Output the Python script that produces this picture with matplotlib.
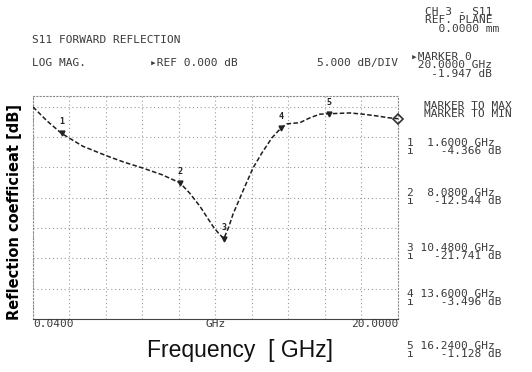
#Network analyzer S11 trace: reflection coefficient vs frequency

import matplotlib.pyplot as plt
import numpy as np

# trace (GHz, dB)
freq = [0.04, 0.8, 1.6, 2.77, 4.09, 5.0, 6.05, 7.1, 8.08, 8.6, 9.17, 9.88, 10.2, 10.48,
        10.75, 10.98, 11.52, 12.07, 12.56, 13.11, 13.6, 13.93, 14.64, 15.19, 15.73,
        16.24, 17.37, 18.08, 18.85, 19.5, 20.0]
s11_db = [0.0, -2.3, -4.37, -6.5, -8.1, -9.1, -10.1, -11.2, -12.54, -14.2, -16.4, -19.7,
          -20.9, -21.74, -19.8, -17.7, -13.9, -10.1, -7.6, -5.1, -3.5, -2.8, -2.6,
          -1.8, -1.2, -1.13, -1.0, -1.2, -1.5, -1.8, -1.95]

marker_ids = ['1', '2', '3', '4', '5']
marker_freq = [1.6, 8.08, 10.48, 13.6, 16.24]
marker_db = [-4.366, -12.544, -21.741, -3.496, -1.128]
active_freq = 20.0
active_db = -1.947

f_start = 0.04
f_stop = 20.0
ref_db = 0.0
db_per_div = 5.0

fig = plt.figure(figsize=(5.32, 3.72), dpi=100)
ax = fig.add_axes([0.062, 0.1425, 0.686, 0.5995])

mono = 'DejaVu Sans Mono'
tc = '#3a3a3a'

# graticule
for xv in np.linspace(f_start, f_stop, 11):
    ax.axvline(xv, color='#9a9a9a', lw=0.8, ls=(0, (1, 2.5)), zorder=1)
for yv in np.arange(-35, 1, db_per_div):
    ax.axhline(yv, color='#9a9a9a', lw=0.8, ls=(0, (1, 2.5)), zorder=1)

ax.plot(freq, s11_db, color='#1e1e1e', lw=1.1, ls=(0, (3, 1.5)), zorder=3)

# markers on the trace
for m, fx, dy in zip(marker_ids, marker_freq, marker_db):
    ax.plot(fx, dy, marker='v', ms=3.5, color='#222222', zorder=4)
    ax.annotate(m, (fx, dy), xytext=(0, 5), textcoords='offset points',
                ha='center', va='bottom', fontsize=6, family=mono,
                fontweight='bold', color='#222222')
ax.plot(active_freq, active_db, marker='D', ms=5, mfc='none', mec='#333333',
        mew=1.2, ls='none', zorder=4, clip_on=False)

ax.set_xlim(f_start, f_stop)
ax.set_ylim(-35, 1.8)
ax.set_xticks([])
ax.set_yticks([])
for s in ax.spines.values():
    s.set_linestyle((0, (1, 2)))
    s.set_color('#8a8a8a')
    s.set_linewidth(0.8)
ax.spines['bottom'].set_color('#444444')
ax.spines['bottom'].set_linestyle((0, (1, 1)))

ax.set_ylabel('Reflection coefficieat [dB]', fontsize=10.5, fontweight='bold')
ax.yaxis.set_label_coords(-0.03, 0.48)

# start / stop labels under the graticule
fig.text(33/532, 1-324/372, '%.4f' % f_start, family=mono, fontsize=8,
         color=tc, ha='left', va='center')
fig.text(216/532, 1-324/372, 'GHz', family=mono, fontsize=8, color=tc,
         ha='center', va='center')
fig.text(398/532, 1-324/372, '%.4f' % f_stop, family=mono, fontsize=8,
         color=tc, ha='right', va='center')

fig.text(240/532, 1-351/372, 'Frequency  [ GHz]', family='Liberation Sans',
         fontsize=16.5, ha='center', va='center', color='#111111')

# header
fig.text(32/532, 1-40/372, 'S11 FORWARD REFLECTION', family=mono, fontsize=8,
         color=tc, va='center')
fig.text(32/532, 1-63/372, 'LOG MAG.', family=mono, fontsize=8, color=tc,
         va='center')
fig.text(150/532, 1-63/372, '\u25b8REF %.3f dB' % ref_db, family=mono,
         fontsize=8, color=tc, va='center')
fig.text(398/532, 1-63/372, '%.3f dB/DIV' % db_per_div, family=mono,
         fontsize=8, color=tc, va='center', ha='right')

# side panel, one block per group so lines can sit close together
side_kw = dict(family=mono, fontsize=8, color=tc, va='top', linespacing=0.8)
fig.text(425/532, 1-7/372, 'CH 3 - S11\nREF. PLANE\n  0.0000 mm', **side_kw)
fig.text(411/532, 1-52/372, '\u25b8MARKER 0\n %.4f GHz\n   %.3f dB'
         % (active_freq, active_db), **side_kw)
fig.text(424/532, 1-101/372, 'MARKER TO MAX\nMARKER TO MIN', **side_kw)

list_y = [138, 188, 243, 289, 341]
for m, fx, dy, y in zip(marker_ids, marker_freq, marker_db, list_y):
    fig.text(407/532, 1-y/372, '%s%8.4f GHz\n\u0131  %8.3f dB' % (m, fx, dy),
             **side_kw)

plt.savefig('out.png', dpi=100)
